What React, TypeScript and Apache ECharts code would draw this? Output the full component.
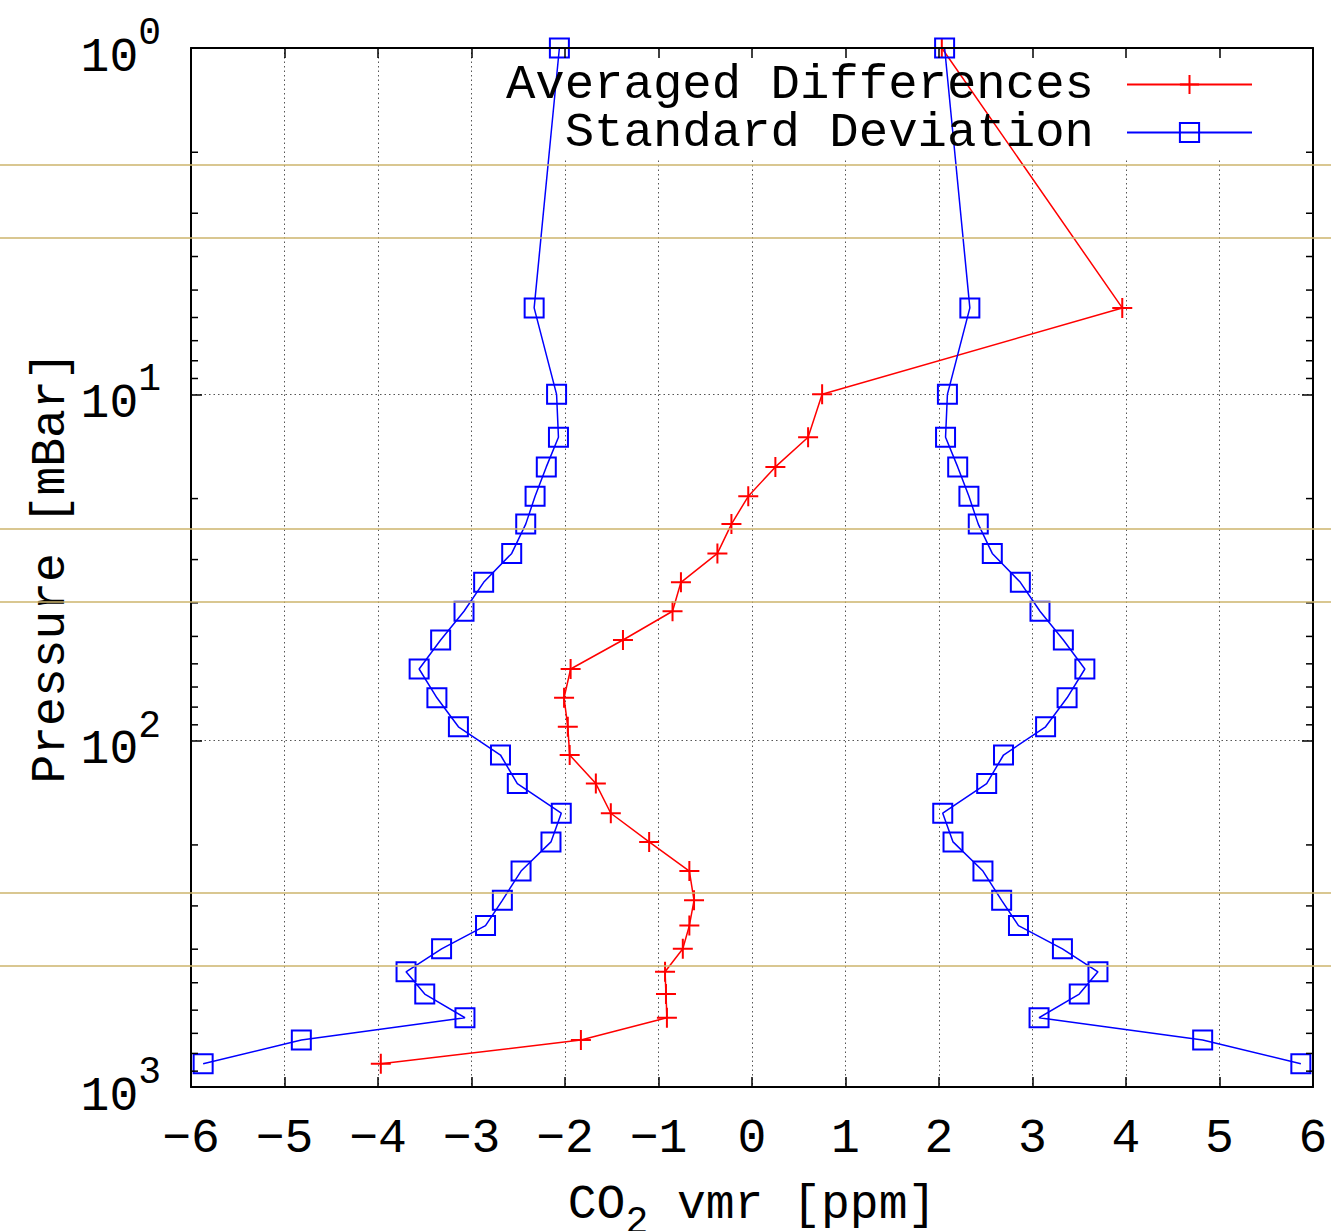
import React, { useEffect, useRef } from 'react';
import * as echarts from 'echarts';

// Pressure levels [mBar]
const pressure = [1, 5.63, 10, 13.3, 16.2, 19.7, 23.7, 28.8, 34.9, 42.3, 51.2, 62.1, 75.2, 91.2, 110, 133, 162, 196, 238, 289, 342, 399, 465, 539, 631, 732, 857];
// Averaged differences [ppm]
const avgDiff = [2.03, 3.96, 0.75, 0.6, 0.25, -0.04, -0.22, -0.37, -0.76, -0.85, -1.38, -1.94, -2.01, -1.97, -1.95, -1.67, -1.51, -1.1, -0.67, -0.62, -0.67, -0.74, -0.93, -0.92, -0.91, -1.83, -3.97];
// Standard deviation [ppm]
const stdDev = [2.06, 2.33, 2.09, 2.07, 2.2, 2.32, 2.42, 2.57, 2.87, 3.08, 3.33, 3.56, 3.37, 3.14, 2.69, 2.51, 2.04, 2.15, 2.47, 2.67, 2.85, 3.32, 3.7, 3.5, 3.07, 4.82, 5.87];
// Minor log ticks
const minorPressure = [2, 3, 4, 5, 6, 7, 8, 9, 20, 30, 40, 50, 60, 70, 80, 90, 200, 300, 400, 500, 600, 700, 800, 900];
const xMin = -6;
const xMax = 6;
const yMin = 1;
const yMax = 1000;

const FONT = 'Liberation Mono';
const GOLD_Y = [165, 238, 529, 602, 893, 966];

const plusPath = 'path://M10,0L10,20M0,10L20,10';
const squarePath = 'path://M0,0L20,0L20,20L0,20Z';

export default function App() {
  const ref = useRef<HTMLDivElement>(null);
  useEffect(() => {
    if (!ref.current) return;
    const chart = echarts.init(ref.current, null, { renderer: 'svg' });
    const gridLine = { show: true, lineStyle: { color: '#555', type: [1.5, 3], width: 1 } };
    const frame = { show: true, onZero: false, lineStyle: { color: '#000', width: 2 } };
    const legendCommon = {
      orient: 'vertical',
      align: 'right',
      right: 78,
      itemWidth: 125,
      itemHeight: 24,
      padding: 0,
      selectedMode: false,
      textStyle: { fontFamily: FONT, fontSize: 49, lineHeight: 46, color: '#000', padding: [0, 28, 0, 0] },
    };
    chart.setOption({
      animation: false,
      backgroundColor: '#fff',
      grid: { left: 191, right: 18, top: 48, bottom: 144, containLabel: false, outerBoundsMode: 'none' },
      legend: [
        { ...legendCommon, top: 60, data: ['Averaged Differences'] },
        { ...legendCommon, top: 108, data: ['Standard Deviation'] },
      ],
      xAxis: [
        {
          type: 'value', min: xMin, max: xMax, interval: 1, position: 'bottom',
          axisLine: frame,
          axisTick: { show: true, inside: true, length: 10, lineStyle: { color: '#000', width: 1.5 } },
          axisLabel: {
            margin: 28, fontFamily: FONT, fontSize: 48, color: '#000',
            formatter: (v: number) => (v < 0 ? '\u2212' + Math.abs(v) : String(v)),
          },
          splitLine: gridLine,
          name: '{a|CO}{s|2}{a| vmr [ppm]}',
          nameLocation: 'middle',
          nameGap: 100,
          nameTextStyle: {
            rich: {
              a: { fontFamily: FONT, fontSize: 48, lineHeight: 48, color: '#000', padding: [0, 0, 12, 0] },
              s: { fontFamily: FONT, fontSize: 38, lineHeight: 38, color: '#000', padding: [22, 0, 0, 0] },
            },
          },
        },
        {
          type: 'value', min: xMin, max: xMax, interval: 1, position: 'top', z: 3,
          axisLine: frame,
          axisTick: { show: true, inside: true, length: 10, lineStyle: { color: '#000', width: 1.5 } },
          axisLabel: { show: false },
          splitLine: { show: false },
        },
      ],
      yAxis: [
        {
          type: 'log', logBase: 10, min: yMin, max: yMax, inverse: true, position: 'left',
          axisLine: frame,
          axisTick: { show: true, inside: true, length: 11, lineStyle: { color: '#000', width: 1.5 } },
          axisLabel: {
            margin: 30,
            formatter: (v: number) => `{b|10}{e|${Math.round(Math.log10(v))}}`,
            rich: {
              b: { fontFamily: FONT, fontSize: 48, lineHeight: 48, color: '#000', padding: [19, 0, 0, 0] },
              e: { fontFamily: FONT, fontSize: 38, lineHeight: 38, color: '#000', padding: [0, 0, 29, 0] },
            },
          },
          splitLine: gridLine,
          name: 'Pressure [mBar]',
          nameLocation: 'middle',
          nameGap: 116,
          nameMoveOverlap: false,
          nameTextStyle: { fontFamily: FONT, fontSize: 48, color: '#000' },
        },
        {
          type: 'log', logBase: 10, min: yMin, max: yMax, inverse: true, position: 'right', z: 3,
          axisLine: frame,
          axisTick: { show: true, inside: true, length: 11, lineStyle: { color: '#000', width: 1.5 } },
          axisLabel: { show: false },
          splitLine: { show: false },
        },
      ],
      graphic: [
        { type: 'rect', z: 1, silent: true, shape: { x: 497, y: 50, width: 814, height: 108 }, style: { fill: '#fff' } },
        ...GOLD_Y.map((y) => ({
          type: 'line', z: 10, silent: true,
          shape: { x1: 0, y1: y, x2: 1331, y2: y },
          style: { stroke: '#cdb46c', lineWidth: 1.5 },
        })),
      ],
      series: [
        {
          name: 'Averaged Differences', type: 'line', xAxisIndex: 0, yAxisIndex: 0, z: 2,
          data: pressure.map((p, i) => [avgDiff[i], p]),
          symbol: plusPath, symbolSize: 20,
          lineStyle: { color: '#ff0000', width: 1.5 },
          itemStyle: { color: '#ff0000', borderColor: '#ff0000', borderWidth: 2 },
        },
        {
          name: 'Standard Deviation', type: 'line', xAxisIndex: 0, yAxisIndex: 0, z: 2,
          data: pressure.map((p, i) => [-stdDev[i], p]),
          symbol: squarePath, symbolSize: 19,
          lineStyle: { color: '#0000ff', width: 1.5 },
          itemStyle: { color: 'rgba(0,0,0,0)', borderColor: '#0000ff', borderWidth: 2 },
        },
        {
          name: 'Standard Deviation', type: 'line', xAxisIndex: 0, yAxisIndex: 0, z: 2,
          data: pressure.map((p, i) => [stdDev[i], p]),
          symbol: squarePath, symbolSize: 19,
          lineStyle: { color: '#0000ff', width: 1.5 },
          itemStyle: { color: 'rgba(0,0,0,0)', borderColor: '#0000ff', borderWidth: 2 },
        },
        {
          type: 'custom', xAxisIndex: 0, yAxisIndex: 0, z: 3, silent: true,
          data: minorPressure.map((p) => [0, p]),
          renderItem: (params: any, api: any) => {
            const cs = params.coordSys;
            const y = api.coord([0, api.value(1)])[1];
            const st = { stroke: '#000', lineWidth: 1.5 };
            return {
              type: 'group',
              children: [
                { type: 'line', shape: { x1: cs.x, y1: y, x2: cs.x + 7, y2: y }, style: st },
                { type: 'line', shape: { x1: cs.x + cs.width - 7, y1: y, x2: cs.x + cs.width, y2: y }, style: st },
              ],
            };
          },
        },
      ],
    });
    return () => chart.dispose();
  }, []);
  return (
    <div
      ref={ref}
      style={{ position: 'absolute', left: 0, top: 0, width: 1331, height: 1231, background: '#fff' }}
    />
  );
}
